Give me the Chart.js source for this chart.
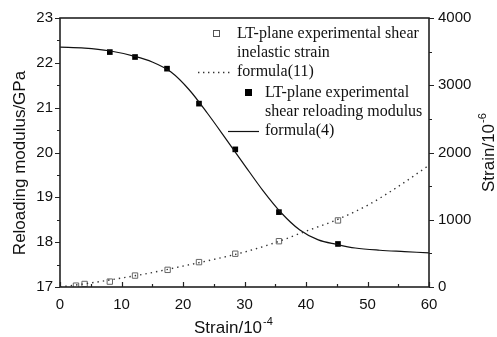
<!DOCTYPE html>
<html>
<head>
<meta charset="utf-8">
<script src="https://cdn.jsdelivr.net/npm/chart.js@4"></script>
<style>
  html, body { margin: 0; padding: 0; background: #fff; }
  #wrap { width: 497px; height: 337px; }
</style>
</head>
<body>
<div id="wrap"><canvas id="chart" width="497" height="337"></canvas></div>
<script>
// experimental points (strain in 10^-4)
const modulusStrain = [8.1, 12.2, 17.4, 22.6, 28.5, 35.6, 45.2];
const modulusExp = [22.24, 22.13, 21.87, 21.09, 20.07, 18.67, 17.96];

const inelasticStrainX = [2.6, 4.0, 8.1, 12.2, 17.5, 22.6, 28.5, 35.6, 45.2];
const inelasticExp = [20, 45, 80, 170, 255, 370, 495, 681, 990];

// fitted curves
const formula11X = [0, 5, 10, 15, 20, 25, 30, 35, 40, 45, 50, 55, 60];
const formula11Y = [0, 60, 133, 215, 311, 410, 520, 660, 830, 1000, 1215, 1495, 1810];

const formula4X = [0, 4, 8, 12, 15, 18, 21, 24, 27, 30, 33, 36, 39, 42, 45, 48, 52, 56, 60];
const formula4Y = [22.35, 22.33, 22.27, 22.15, 22.02, 21.8, 21.4, 20.87, 20.3, 19.72, 19.15, 18.65, 18.27, 18.05, 17.95, 17.87, 17.82, 17.79, 17.76];

// axis ticks
const xTicks = [0, 10, 20, 30, 40, 50, 60];
const leftTicks = [17, 18, 19, 20, 21, 22, 23];
const rightTicks = [0, 1000, 2000, 3000, 4000];

const toPts = (xs, ys) => xs.map((x, i) => ({ x: x, y: ys[i] }));

const sansFont = '"Liberation Sans", Arial, sans-serif';
const serifFont = '"Liberation Serif", "Times New Roman", serif';

// axes frame, ticks, titles, legend
const framePlugin = {
    id: 'frame',
    afterDatasetsDraw(chart) {
        const ctx = chart.ctx;
        const a = chart.chartArea;
        const sx = chart.scales.x, sl = chart.scales.y, sr = chart.scales.y2;
        ctx.save();
        ctx.strokeStyle = '#222';
        ctx.lineWidth = 1.6;
        ctx.strokeRect(a.left, a.top, a.right - a.left, a.bottom - a.top);

        ctx.lineWidth = 1.2;
        ctx.beginPath();
        // bottom ticks point inward
        for (let v = 0; v <= 60; v += 5) {
            const px = Math.round(sx.getPixelForValue(v)) + 0.5;
            const len = v % 10 === 0 ? 5 : 3;
            ctx.moveTo(px, a.bottom);
            ctx.lineTo(px, a.bottom - len);
        }
        // left ticks point outward
        for (let v = 17; v <= 23; v += 0.5) {
            const py = Math.round(sl.getPixelForValue(v)) + 0.5;
            const len = Number.isInteger(v) ? 5 : 3;
            ctx.moveTo(a.left, py);
            ctx.lineTo(a.left - len, py);
        }
        // right ticks point outward
        for (let v = 0; v <= 4000; v += 500) {
            const py = Math.round(sr.getPixelForValue(v)) + 0.5;
            const len = v % 1000 === 0 ? 5 : 3;
            ctx.moveTo(a.right, py);
            ctx.lineTo(a.right + len, py);
        }
        ctx.stroke();

        // axis titles
        ctx.fillStyle = '#111';
        ctx.font = '17px ' + sansFont;
        ctx.textBaseline = 'alphabetic';
        ctx.textAlign = 'left';
        const xt = 'Strain/10';
        ctx.fillText(xt, 194, 333);
        const xw = ctx.measureText(xt).width;
        ctx.font = '11px ' + sansFont;
        ctx.fillText('-4', 194 + xw + 1, 325);

        ctx.save();
        ctx.translate(25, 163);
        ctx.rotate(-Math.PI / 2);
        ctx.font = '17px ' + sansFont;
        ctx.textAlign = 'center';
        ctx.fillText('Reloading modulus/GPa', 0, 0);
        ctx.restore();

        ctx.save();
        ctx.translate(494, 192);
        ctx.rotate(-Math.PI / 2);
        ctx.font = '17px ' + sansFont;
        ctx.textAlign = 'left';
        const rt = 'Strain/10';
        ctx.fillText(rt, 0, 0);
        const rw = ctx.measureText(rt).width;
        ctx.font = '11px ' + sansFont;
        ctx.fillText('-6', rw + 1, -8);
        ctx.restore();

        // legend
        ctx.fillStyle = '#111';
        ctx.font = '16px ' + serifFont;
        ctx.textAlign = 'left';
        ctx.textBaseline = 'middle';
        ctx.fillText('LT-plane experimental shear', 237, 34);
        ctx.fillText('inelastic strain', 237, 53);
        ctx.fillText('formula(11)', 237, 72);
        ctx.fillText('LT-plane experimental', 265, 93);
        ctx.fillText('shear reloading modulus', 265, 112);
        ctx.fillText('formula(4)', 265, 131);

        ctx.strokeStyle = '#555';
        ctx.lineWidth = 1;
        ctx.strokeRect(213.5, 30.5, 6, 6);

        ctx.strokeStyle = '#333';
        ctx.lineWidth = 1.4;
        ctx.setLineDash([1.4, 3.6]);
        ctx.beginPath();
        ctx.moveTo(198, 72.5);
        ctx.lineTo(231, 72.5);
        ctx.stroke();
        ctx.setLineDash([]);

        ctx.fillStyle = '#000';
        ctx.fillRect(245, 89, 7, 7);

        ctx.strokeStyle = '#111';
        ctx.lineWidth = 1.2;
        ctx.beginPath();
        ctx.moveTo(228, 131.5);
        ctx.lineTo(259, 131.5);
        ctx.stroke();
        ctx.restore();
    }
};

const tickFont = { family: sansFont, size: 15 };

new Chart(document.getElementById('chart'), {
    type: 'scatter',
    data: {
        datasets: [
            {
                label: 'formula(11)',
                data: toPts(formula11X, formula11Y),
                yAxisID: 'y2',
                showLine: true,
                borderColor: '#333',
                borderWidth: 1.4,
                borderDash: [1.4, 4],
                pointRadius: 0,
                cubicInterpolationMode: 'monotone'
            },
            {
                label: 'LT-plane experimental shear inelastic strain',
                data: toPts(inelasticStrainX, inelasticExp),
                yAxisID: 'y2',
                showLine: false,
                pointStyle: 'rect',
                pointRadius: 3.8,
                pointBackgroundColor: '#fff',
                pointBorderColor: '#666',
                pointBorderWidth: 1
            },
            {
                label: 'formula(4)',
                data: toPts(formula4X, formula4Y),
                yAxisID: 'y',
                showLine: true,
                borderColor: '#111',
                borderWidth: 1.2,
                pointRadius: 0,
                cubicInterpolationMode: 'monotone'
            },
            {
                label: 'LT-plane experimental shear reloading modulus',
                data: toPts(modulusStrain, modulusExp),
                yAxisID: 'y',
                showLine: false,
                pointStyle: 'rect',
                pointRadius: 4,
                pointBackgroundColor: '#000',
                pointBorderColor: '#000',
                pointBorderWidth: 0
            }
        ]
    },
    options: {
        responsive: false,
        animation: false,
        layout: { padding: { top: 17, left: 0, right: 0, bottom: 0 } },
        plugins: {
            legend: { display: false },
            tooltip: { enabled: false }
        },
        scales: {
            x: {
                type: 'linear',
                min: 0,
                max: 60,
                afterBuildTicks: s => { s.ticks = xTicks.map(v => ({ value: v })); },
                afterFit: s => { s.height = 50; },
                grid: { display: false, drawTicks: false },
                border: { display: false },
                ticks: { padding: 9, color: '#111', font: tickFont, callback: v => String(v) }
            },
            y: {
                position: 'left',
                min: 17,
                max: 23,
                afterBuildTicks: s => { s.ticks = leftTicks.map(v => ({ value: v })); },
                afterFit: s => { s.width = 60; },
                grid: { display: false, drawTicks: false },
                border: { display: false },
                ticks: { padding: 7, color: '#111', font: tickFont, callback: v => String(v) }
            },
            y2: {
                position: 'right',
                min: 0,
                max: 4000,
                afterBuildTicks: s => { s.ticks = rightTicks.map(v => ({ value: v })); },
                afterFit: s => { s.width = 68; },
                grid: { display: false, drawTicks: false },
                border: { display: false },
                ticks: { padding: 9, color: '#111', font: tickFont, callback: v => String(v) }
            }
        }
    },
    plugins: [framePlugin]
});
</script>
</body>
</html>
